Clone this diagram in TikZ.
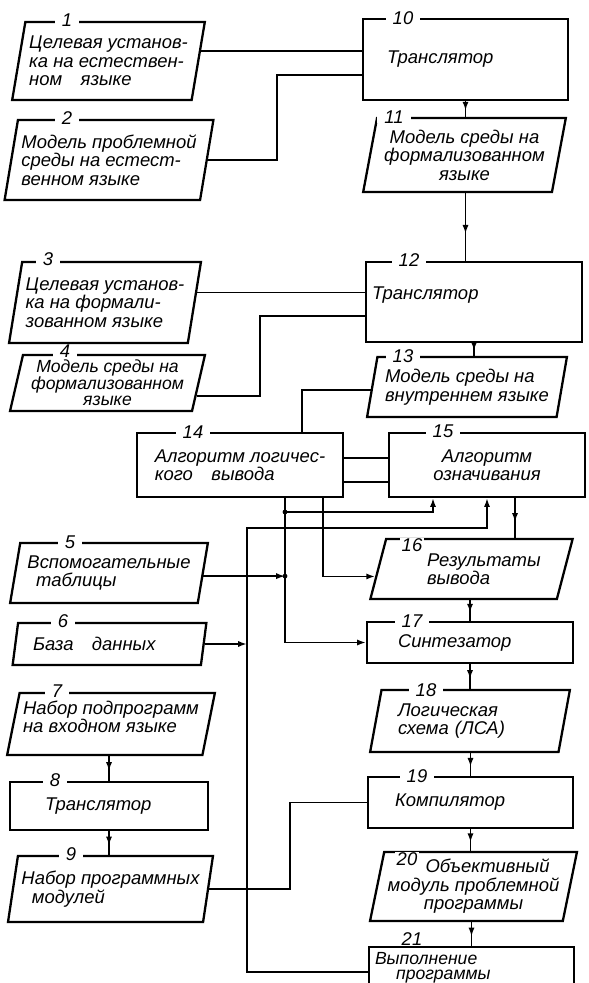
\documentclass[tikz,border=0pt]{standalone}
\usepackage{fontspec}
\setmainfont{Liberation Sans}
\usetikzlibrary{calc,arrows.meta,shapes.geometric,decorations.markings}

\tikzset{
  blk/.style={draw,line width=1.3pt,rectangle,font=\itshape\fontsize{10.5}{10.5}\selectfont,align=left,inner sep=2pt},
  dat/.style={blk,trapezium,trapezium left angle=77,trapezium right angle=103,trapezium stretches=true},
  num/.style={fill=white,font=\itshape\fontsize{10.5}{10.5}\selectfont,inner xsep=4pt,inner ysep=0pt},
  ln/.style={line width=1.1pt},
  arr/.style={ln,-{Latex[length=5pt,width=3.5pt]}},
  midarr/.style={ln,postaction={decorate},decoration={markings,mark=at position 0.6 with {\arrow{Latex[length=5pt,width=3.5pt]}}}}
}

\begin{document}
\begin{tikzpicture}[x=0.02cm,y=-0.02cm]
\useasboundingbox (0,0) rectangle (588,983);

\node[dat,minimum width=3.86cm,minimum height=1.56cm] (b1) at (108.5,61) {Целевая установ-\\ка на естествен-\\ном\quad языке};
\node[dat,minimum width=3.96cm,minimum height=1.6cm] (b2) at (109,160) {Модель проблемной\\среды на естест-\\венном языке};
\node[dat,minimum width=3.8cm,minimum height=1.62cm] (b3) at (105,302.5) {Целевая установ-\\ка на формали-\\зованном языке};
\node[dat,align=center,font=\itshape\fontsize{10}{9.4}\selectfont,minimum width=3.9cm,minimum height=1.12cm] (b4) at (107.5,383) {Модель среды на\\формализованном\\языке};
\node[dat,minimum width=3.96cm,minimum height=1.2cm] (b5) at (109,573) {Вспомогательные\\\hspace*{5pt}таблицы};
\node[dat,text width=3.06cm,minimum width=3.9cm,minimum height=0.84cm] (b6) at (109.5,644) {База\quad данных};
\node[dat,minimum width=4.04cm,minimum height=1.24cm] (b7) at (111,724) {Набор подпрограмм\\на входном языке\\[-2pt]\mbox{}};
\node[blk,text width=2.56cm,minimum width=3.96cm,minimum height=0.96cm] (b8) at (109,806) {Транслятор};
\node[dat,minimum width=4.06cm,minimum height=1.32cm] (b9) at (110.5,889) {Набор программных\\\hspace*{6pt}модулей};

\node[blk,text width=3.14cm,minimum width=4.1cm,minimum height=1.62cm] (b10) at (465.5,59.5) {Транслятор};
\node[dat,align=center,minimum width=4.06cm,minimum height=1.48cm] (b11) at (464.5,155) {Модель среды на\\формализованном\\языке};
\node[blk,text width=4.08cm,minimum width=4.32cm,minimum height=1.6cm] (b12) at (474,302) {Транслятор\\\mbox{}};
\node[dat,minimum width=4cm,minimum height=1.2cm] (b13) at (467,387) {Модель среды на\\внутреннем языке};
\node[blk,minimum width=4.12cm,minimum height=1.28cm] (b14) at (240,465) {Алгоритм логичес-\\кого\quad вывода};
\node[blk,align=center,minimum width=3.92cm,minimum height=1.28cm] (b15) at (487,465) {Алгоритм\\означивания};
\node[dat,text width=1.78cm,minimum width=4.06cm,minimum height=1.2cm] (b16) at (471.5,569) {Результаты\\вывода};
\node[blk,text width=2.88cm,minimum width=4.12cm,minimum height=0.82cm] (b17) at (470,642.5) {Синтезатор};
\node[dat,text width=2.88cm,minimum width=4cm,minimum height=1.24cm] (b18) at (470,721) {Логическая\\схема (ЛСА)};
\node[blk,text width=3.02cm,minimum width=4.1cm,minimum height=1.02cm] (b19) at (470.5,802.5) {Компилятор};
\node[dat,align=center,minimum width=4.1cm,minimum height=1.38cm] (b20) at (473.5,886.5) {\hspace*{16pt}Объективный\\модуль проблемной\\программы};
\node[blk,text width=3.86cm,font=\itshape\fontsize{10}{8.8}\selectfont,minimum width=4.1cm,minimum height=0.84cm] (b21) at (471.5,968) {Выполнение\\\hspace*{12pt}программы};

\node[num] (n1) at (67,20) {1};
\node[num] (n2) at (67,118) {2};
\node[num] (n3) at (48,259) {3};
\node[num] (n4) at (65,351) {4};
\node[num] (n5) at (70,542) {5};
\node[num] (n6) at (63,621) {6};
\node[num] (n7) at (57,691) {7};
\node[num] (n8) at (55,780) {8};
\node[num] (n9) at (71,854) {9};
\node[num] (n10) at (403,18) {10};
\node[num] (n11) at (394,117) {11};
\node[num] (n12) at (409,260) {12};
\node[num] (n13) at (403,356) {13};
\node[num] (n14) at (193,432) {14};
\node[num] (n15) at (443,431) {15};
\node[num,inner xsep=1pt] (n16) at (412,545) {16};
\node[num] (n17) at (412,621) {17};
\node[num] (n18) at (426,690) {18};
\node[num] (n19) at (417,776) {19};
\node[num,inner xsep=1pt] (n20) at (407,859) {20};
\node[num] (n21) at (412,939) {21};

\coordinate (k2) at (277,75);
\coordinate (k4) at (260,316);
\coordinate (k13) at (302,390);
\coordinate (v1) at (285,512);
\coordinate (v2) at (323,576);
\coordinate (k6) at (247,528);
\coordinate (u1) at (433,512);
\coordinate (u2) at (487,528);
\coordinate (u3) at (515,520);
\coordinate (k9) at (290,889);

\draw[ln] ($(b1.top right corner)!.38!(b1.bottom right corner)$) coordinate (p1) -- (p1 -| b10.west);
\draw[ln] (b2.right side) -| (k2) -- (k2 -| b10.west);
\draw[midarr] (b10.south) -- (b10.south |- b11.top side);
\draw[midarr] (b10.south |- b11.bottom side) -- (b10.south |- b12.north);
\draw[ln] ($(b3.top right corner)!.38!(b3.bottom right corner)$) coordinate (p3) -- (p3 -| b12.west);
\draw[ln] ($(b4.top right corner)!.72!(b4.bottom right corner)$) -| (k4) -- (k4 -| b12.west);
\draw[midarr] (b12.south) -- (b12.south |- b13.top side);
\draw[ln] ($(b13.top left corner)!.55!(b13.bottom left corner)$) -| (k13 |- b14.north);
\draw[ln] ($(b14.north east)!.39!(b14.south east)$) coordinate (q1) -- (q1 -| b15.west);
\draw[ln] ($(b14.north east)!.75!(b14.south east)$) coordinate (q2) -- (q2 -| b15.west);
\draw[arr] (v1 |- b14.south) |- (b17.west);
\draw[arr] (v2 |- b14.south) |- ($(b16.top left corner)!.62!(b16.bottom left corner)$);
\draw[arr] (v1) -| (u1 |- b15.south);
\draw[arr] ($(b21.north west)!.6!(b21.south west)$) -| (k6) -| (u2 |- b15.south);
\draw[arr] (b6.right side) -- (b6.right side -| k6);
\draw[arr] ($(b5.top right corner)!.55!(b5.bottom right corner)$) coordinate (p5) -- (p5 -| v1);
\fill (v1) circle (2.4);
\fill (p5 -| v1) circle (2.4);
\draw[midarr] (u3 |- b15.south) -- (u3 |- b16.top side);
\draw[midarr] (b17.north |- b16.bottom side) -- (b17.north);
\draw[midarr] (b17.south) -- (b17.south |- b18.top side);
\draw[midarr] (b19.north |- b18.bottom side) -- (b19.north);
\draw[midarr] (b19.south) -- (b19.south |- b20.top side);
\draw[midarr] (b21.north |- b20.bottom side) -- (b21.north);
\draw[midarr] (b8.north |- b7.bottom side) -- (b8.north);
\draw[midarr] (b8.south) -- (b8.south |- b9.top side);
\draw[ln] (b9.right side) -| (k9 |- b19.west) -- (b19.west);
\end{tikzpicture}
\end{document}
